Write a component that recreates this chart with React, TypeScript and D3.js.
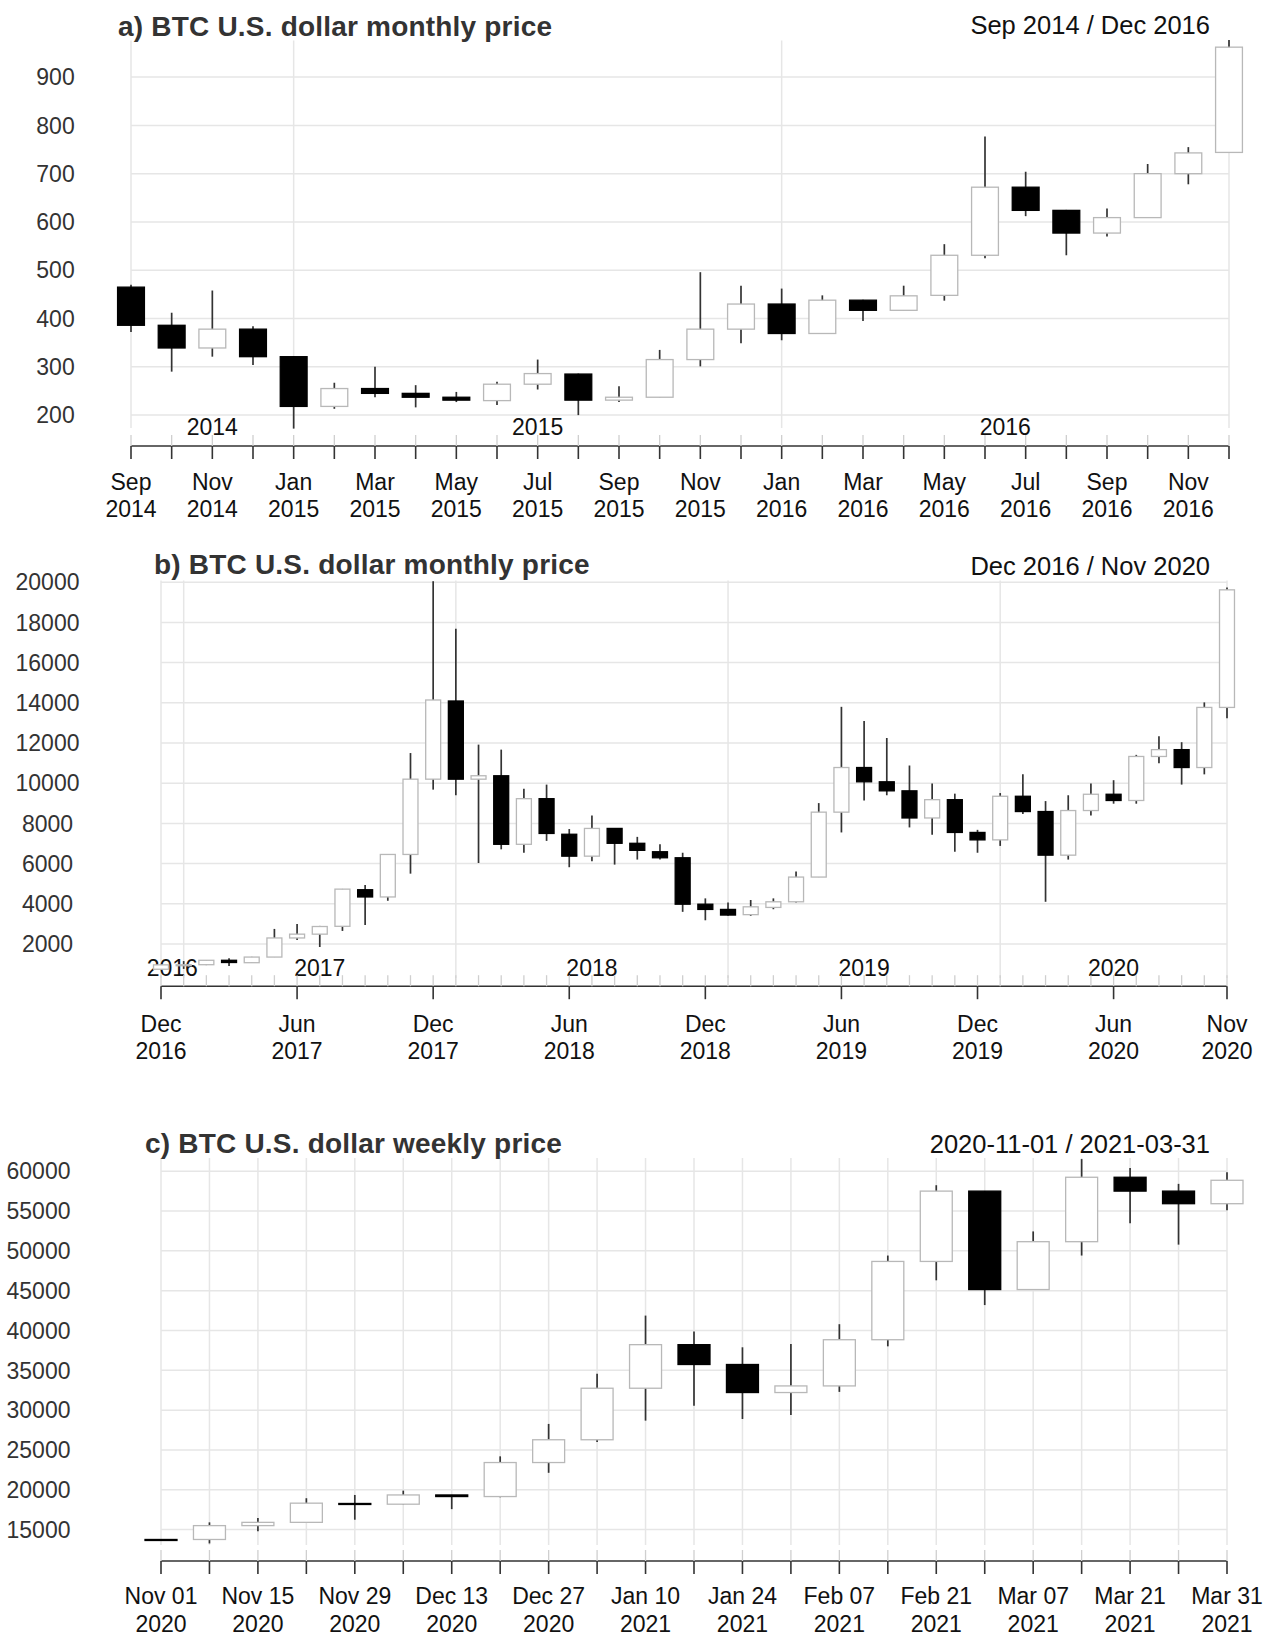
import * as d3 from 'd3'

const FONT = '"Liberation Sans", Arial, Helvetica, sans-serif'

// a) monthly, Sep 2014 - Dec 2016
const aMonths = [
  'Sep 2014', 'Oct 2014', 'Nov 2014', 'Dec 2014', 'Jan 2015', 'Feb 2015', 'Mar 2015', 'Apr 2015',
  'May 2015', 'Jun 2015', 'Jul 2015', 'Aug 2015', 'Sep 2015', 'Oct 2015', 'Nov 2015', 'Dec 2015',
  'Jan 2016', 'Feb 2016', 'Mar 2016', 'Apr 2016', 'May 2016', 'Jun 2016', 'Jul 2016', 'Aug 2016',
  'Sep 2016', 'Oct 2016', 'Nov 2016', 'Dec 2016',
]
const aOpen = [465, 386, 339, 378, 321, 218, 255, 245, 237, 230, 264, 285, 231, 237, 315, 378, 430, 369, 438, 417, 448, 531, 672, 624, 577, 609, 700, 744]
const aHigh = [470, 412, 458, 384, 322, 267, 300, 262, 248, 269, 315, 286, 260, 335, 496, 468, 462, 448, 439, 468, 554, 777, 704, 625, 628, 720, 755, 977]
const aLow = [372, 290, 321, 304, 172, 213, 237, 216, 227, 221, 253, 200, 227, 237, 301, 349, 355, 369, 395, 417, 437, 525, 612, 531, 570, 609, 678, 744]
const aClose = [386, 339, 378, 321, 218, 255, 245, 237, 231, 264, 286, 231, 237, 315, 378, 430, 369, 438, 417, 447, 531, 672, 624, 577, 609, 700, 743, 962]
const aTicks = [200, 300, 400, 500, 600, 700, 800, 900]

// b) monthly, Dec 2016 - Nov 2020
const bMonths = [
  'Dec 2016', 'Jan 2017', 'Feb 2017', 'Mar 2017', 'Apr 2017', 'May 2017', 'Jun 2017', 'Jul 2017',
  'Aug 2017', 'Sep 2017', 'Oct 2017', 'Nov 2017', 'Dec 2017', 'Jan 2018', 'Feb 2018', 'Mar 2018',
  'Apr 2018', 'May 2018', 'Jun 2018', 'Jul 2018', 'Aug 2018', 'Sep 2018', 'Oct 2018', 'Nov 2018',
  'Dec 2018', 'Jan 2019', 'Feb 2019', 'Mar 2019', 'Apr 2019', 'May 2019', 'Jun 2019', 'Jul 2019',
  'Aug 2019', 'Sep 2019', 'Oct 2019', 'Nov 2019', 'Dec 2019', 'Jan 2020', 'Feb 2020', 'Mar 2020',
  'Apr 2020', 'May 2020', 'Jun 2020', 'Jul 2020', 'Aug 2020', 'Sep 2020', 'Oct 2020', 'Nov 2020',
]
const bOpen = [744, 963, 970, 1190, 1070, 1350, 2300, 2490, 2880, 4700, 4340, 6455, 10200, 14090, 10200, 10370,
  6960, 9230, 7460, 6370, 7750, 7010, 6590, 6290, 3980, 3720, 3460, 3820, 4100, 5330, 8560, 10780,
  10070, 9620, 8270, 9180, 7550, 7180, 9350, 8590, 6420, 8640, 9450, 9140, 11330, 11670, 10780, 13770]
const bHigh = [977, 1150, 1200, 1290, 1360, 2750, 2990, 2900, 4740, 4940, 6460, 11500, 20050, 17680, 11920, 11670,
  9730, 9930, 7720, 8390, 7760, 7330, 6960, 6540, 4270, 4070, 4190, 4270, 5610, 9010, 13800, 13100,
  12250, 10880, 9990, 9480, 7680, 9510, 10440, 9110, 9400, 9990, 10150, 11410, 12340, 12040, 14020, 19740]
const bLow = [744, 760, 950, 910, 1060, 1350, 2200, 1850, 2650, 2945, 4150, 5500, 9680, 9400, 6030, 6710,
  6540, 7130, 5820, 6120, 5950, 6200, 6200, 3600, 3180, 3400, 3400, 3730, 4070, 5330, 7550, 9140,
  9400, 7800, 7430, 6590, 6540, 6880, 8470, 4100, 6200, 8390, 8980, 8980, 10990, 9930, 10440, 13230]
const bClose = [962, 968, 1190, 1080, 1350, 2300, 2490, 2870, 4730, 4340, 6455, 10200, 14140, 10200, 10370, 6960,
  9230, 7500, 6370, 7750, 7010, 6660, 6290, 3980, 3720, 3440, 3850, 4100, 5330, 8560, 10780, 10070,
  9620, 8270, 9180, 7550, 7180, 9350, 8590, 6420, 8640, 9450, 9140, 11330, 11670, 10780, 13770, 19620]
const bTicks = [2000, 4000, 6000, 8000, 10000, 12000, 14000, 16000, 18000, 20000]

// c) weekly, 2020-11-01 - 2021-03-31
const cWeeks = [
  'Nov 01 2020', 'Nov 08 2020', 'Nov 15 2020', 'Nov 22 2020', 'Nov 29 2020', 'Dec 06 2020', 'Dec 13 2020',
  'Dec 20 2020', 'Dec 27 2020', 'Jan 03 2021', 'Jan 10 2021', 'Jan 17 2021', 'Jan 24 2021', 'Jan 31 2021',
  'Feb 07 2021', 'Feb 14 2021', 'Feb 21 2021', 'Feb 28 2021', 'Mar 07 2021', 'Mar 14 2021', 'Mar 21 2021',
  'Mar 28 2021', 'Mar 31 2021',
]
const cOpen = [13760, 13760, 15500, 15910, 18280, 18190, 19350, 19150, 23420, 26280, 32750, 38220, 35730, 32210,
  33040, 38840, 48670, 57500, 45140, 51150, 59240, 57500, 55920]
const cHigh = [13800, 15910, 16450, 18940, 19350, 19890, 19360, 24200, 28270, 34570, 41870, 39880, 37890, 38300,
  40790, 49410, 58240, 57510, 52440, 61520, 60400, 58410, 59860]
const cLow = [13700, 13260, 14790, 15900, 16240, 18150, 17570, 19060, 22130, 25990, 28680, 30550, 28890, 29390,
  32290, 38010, 46300, 43190, 45140, 49410, 53470, 50780, 55090]
const cClose = [13750, 15500, 15910, 18320, 18180, 19350, 19150, 23420, 26280, 32750, 38220, 35730, 32210, 33040,
  38840, 48670, 57500, 45140, 51150, 59240, 57500, 55920, 58860]
const cTicks = [15000, 20000, 25000, 30000, 35000, 40000, 45000, 50000, 55000, 60000]

const GRID = '#e6e6e6'

function splitLabel(s) {
  const i = s.lastIndexOf(' ')
  return [s.slice(0, i), s.slice(i + 1)]
}

function Panel({ cfg }) {
  const { dates, open, high, low, close, ticks } = cfg
  const n = dates.length
  const x = d3.scaleLinear().domain([0, n - 1]).range([cfg.x0, cfg.x1])
  const y = d3.scaleLinear().domain(cfg.yDomain).range(cfg.yRange)
  const bw = ((cfg.x1 - cfg.x0) / (n - 1)) * 0.66
  const idx = d3.range(n)

  // year boundaries (January) for grid lines and year labels
  const jan = idx.filter((i) => dates[i].startsWith('Jan') && !cfg.weekly)
  const bounds = [0, ...jan, n - 1]
  const vGrid = cfg.weekly ? idx : bounds
  const years = cfg.weekly
    ? []
    : bounds.slice(0, -1).map((b, k) => ({ pos: (b + bounds[k + 1]) / 2, label: splitLabel(dates[b])[1] }))

  const isMajor = (i) => (cfg.major === 'all' ? true : i % cfg.major === 0 || i === n - 1)
  const showLabel = (i) => i % cfg.labelEvery === 0 || (cfg.labelLast && i === n - 1)

  return (
    <g fontFamily={FONT}>
      {/* grid */}
      {ticks.map((t) => (
        <line key={'h' + t} x1={cfg.x0} x2={cfg.x1} y1={y(t)} y2={y(t)} stroke={GRID} strokeWidth={1.5} />
      ))}
      {vGrid.map((i) => (
        <line key={'v' + i} x1={x(i)} x2={x(i)} y1={cfg.gridTop} y2={cfg.gridBottom} stroke={GRID} strokeWidth={1.5} />
      ))}

      {/* y labels */}
      {ticks.map((t) => (
        <text key={'yl' + t} x={cfg.yLabX} y={y(t) + 8.2} textAnchor="middle" fontSize={23} fill="#333">
          {t}
        </text>
      ))}

      {/* year labels */}
      {years.map((yr) => (
        <text key={'yr' + yr.label} x={x(yr.pos)} y={cfg.yearY} textAnchor="middle" fontSize={23} fill="#111">
          {yr.label}
        </text>
      ))}

      {/* candles */}
      {idx.map((i) => {
        const up = close[i] >= open[i]
        const top = y(Math.max(open[i], close[i]))
        const bot = y(Math.min(open[i], close[i]))
        return (
          <g key={'c' + i}>
            <line x1={x(i)} x2={x(i)} y1={y(high[i])} y2={y(low[i])} stroke="#333" strokeWidth={1.7} />
            <rect
              x={x(i) - bw / 2}
              y={top}
              width={bw}
              height={Math.max(bot - top, 1)}
              fill={up ? '#fff' : '#000'}
              stroke={up ? '#b8b8b8' : '#000'}
              strokeWidth={1.3}
            />
          </g>
        )
      })}

      {/* x axis */}
      <line x1={cfg.x0} x2={cfg.x1} y1={cfg.axisY} y2={cfg.axisY} stroke="#333" strokeWidth={1.6} />
      {idx.map((i) => (
        <line key={'mt' + i} x1={x(i)} x2={x(i)} y1={cfg.axisY - 11} y2={cfg.axisY} stroke="#cfcfcf" strokeWidth={1.3} />
      ))}
      {idx.filter(isMajor).map((i) => (
        <line key={'Mt' + i} x1={x(i)} x2={x(i)} y1={cfg.axisY} y2={cfg.axisY + 13} stroke="#333" strokeWidth={1.6} />
      ))}
      {idx.filter(showLabel).map((i) => {
        const [l1, l2] = splitLabel(dates[i])
        return (
          <text key={'xl' + i} x={x(i)} textAnchor="middle" fontSize={23} fill="#111">
            <tspan x={x(i)} y={cfg.labY1}>{l1}</tspan>
            <tspan x={x(i)} y={cfg.labY1 + 27.5}>{l2}</tspan>
          </text>
        )
      })}

      {/* titles */}
      <text x={cfg.titleX} y={cfg.titleY} fontSize={28} fontWeight="bold" letterSpacing={0.2} fill="#333">
        {cfg.title}
      </text>
      <text x={1210} y={cfg.rangeY} textAnchor="end" fontSize={25.5} fill="#111">
        {cfg.range}
      </text>
    </g>
  )
}

const panels = [
  {
    dates: aMonths, open: aOpen, high: aHigh, low: aLow, close: aClose, ticks: aTicks,
    x0: 131, x1: 1229, yDomain: [200, 900], yRange: [415.1, 77.1],
    gridTop: 40.6, gridBottom: 428, axisY: 446, yearY: 435, labY1: 489.5, yLabX: 55.5,
    major: 'all', labelEvery: 2, labelLast: false,
    titleX: 118, titleY: 35.5, rangeY: 34,
    title: 'a) BTC U.S. dollar monthly price', range: 'Sep 2014 / Dec 2016',
  },
  {
    dates: bMonths, open: bOpen, high: bHigh, low: bLow, close: bClose, ticks: bTicks,
    x0: 161, x1: 1227, yDomain: [2000, 20000], yRange: [944, 582.2],
    gridTop: 580.6, gridBottom: 978, axisY: 986.2, yearY: 975.5, labY1: 1031.6, yLabX: 47.5,
    major: 6, labelEvery: 6, labelLast: true,
    titleX: 154, titleY: 574, rangeY: 575,
    title: 'b) BTC U.S. dollar monthly price', range: 'Dec 2016 / Nov 2020',
  },
  {
    dates: cWeeks, open: cOpen, high: cHigh, low: cLow, close: cClose, ticks: cTicks, weekly: true,
    x0: 161, x1: 1227, yDomain: [15000, 60000], yRange: [1529.6, 1171.2],
    gridTop: 1158, gridBottom: 1545, axisY: 1561, yearY: 0, labY1: 1604, yLabX: 38.5,
    major: 'all', labelEvery: 2, labelLast: true,
    titleX: 145, titleY: 1153, rangeY: 1153,
    title: 'c) BTC U.S. dollar weekly price', range: '2020-11-01 / 2021-03-31',
  },
]

export default function App() {
  return (
    <svg
      width={1273}
      height={1638}
      style={{ position: 'absolute', left: 0, top: 0, display: 'block', background: '#fff' }}
    >
      <rect width={1273} height={1638} fill="#fff" />
      {panels.map((p, k) => (
        <Panel key={k} cfg={p} />
      ))}
    </svg>
  )
}
